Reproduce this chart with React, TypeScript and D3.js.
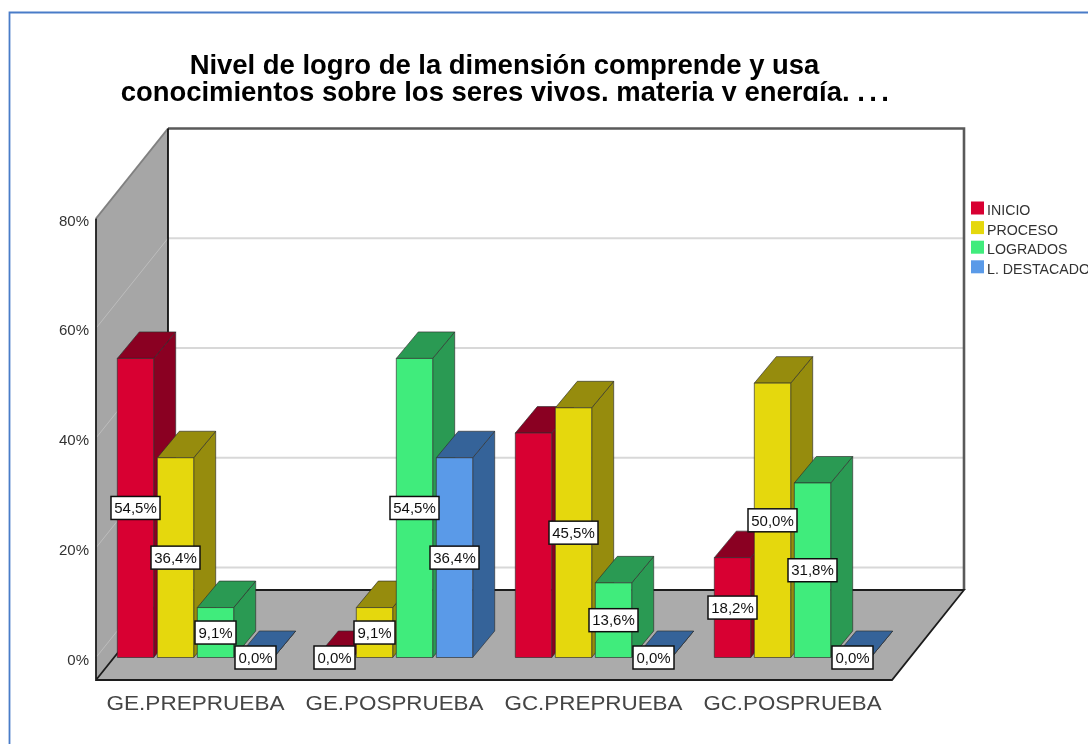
import React from "react";
import * as d3 from "d3";

const titleLines = ["Nivel de logro de la dimensión comprende y usa", "conocimientos sobre los seres vivos, materia y energía, "];
const titleEllipsis = "...";
const categories = ["GE.PREPRUEBA", "GE.POSPRUEBA", "GC.PREPRUEBA", "GC.POSPRUEBA"];
const series = ["INICIO", "PROCESO", "LOGRADOS", "L. DESTACADO"];
const inicio = [54.5, 0, 40.9, 18.2];
const proceso = [36.4, 9.1, 45.5, 50.0];
const logrados = [9.1, 54.5, 13.6, 31.8];
const destacado = [0, 36.4, 0, 0];
const values = [inicio, proceso, logrados, destacado];
const yTicks = [0, 20, 40, 60, 80];
const frontColors = ["#D80032", "#E5D80B", "#41EC7B", "#5A9AE8"];
const sideColors = ["#8A0022", "#968C07", "#2B9A52", "#366499"];
const font = "'Liberation Sans', Arial, sans-serif";

const DX = 72, DY = 90, BDX = 22, BDY = 26.5;
const X0 = 96, X1 = 892, FLOOR = 680;
const x = d3.scaleBand().domain(categories).range([X0, X1]);
const inner = d3.scaleBand().domain(series).range([-80, 80]).paddingInner(0.09).paddingOuter(0.045);
const y = d3.scaleLinear().domain([0, 80]).range([657.5, 218.5]);
const pts = (p: number[][]) => p.map((d) => d.join(",")).join(" ");
const fmt = (v: number) => v.toFixed(1).replace(".", ",") + "%";

export default function App() {
  const bars: any[] = [];
  const labels: any[] = [];
  categories.forEach((c, ci) => {
    series.forEach((s, si) => {
      const v = values[si][ci];
      const l = (x(c) as number) + x.bandwidth() / 2 + (inner(s) as number);
      const r = l + inner.bandwidth();
      const t = y(v), b = y(0);
      bars.push(
        <g key={c + s} stroke="#2e2e2e" strokeOpacity={0.65} strokeWidth={1} strokeLinejoin="round">
          <polygon points={pts([[r, b], [r + BDX, b - BDY], [r + BDX, t - BDY], [r, t]])} fill={sideColors[si]} />
          <polygon points={pts([[l, t], [r, t], [r + BDX, t - BDY], [l + BDX, t - BDY]])} fill={sideColors[si]} />
          {v > 0 && <rect x={l} y={t} width={r - l} height={b - t} fill={frontColors[si]} />}
        </g>
      );
      if (c === "GC.PREPRUEBA" && s === "INICIO") return;
      const cx = (l + r) / 2, cy = (t + b) / 2, w = v >= 10 ? 49 : 41;
      labels.push(
        <g key={c + s + "l"}>
          <rect x={cx - w / 2} y={cy - 11.5} width={w} height={23} fill="#fff" stroke="#111" strokeWidth={1.5} />
          <text x={cx} y={cy + 5.2} textAnchor="middle" fontSize={15} fill="#111" fontFamily={font}>{fmt(v)}</text>
        </g>
      );
    });
  });

  return (
    <svg width={1088} height={744} style={{ position: "absolute", left: 0, top: 0, background: "#fff" }}>
      <defs>
        <clipPath id="tc"><rect x={0} y={40} width={1088} height={61} /></clipPath>
        <filter id="soft" x="0" y="0" width="100%" height="100%"><feGaussianBlur stdDeviation={0.45} /></filter>
      </defs>
      <g filter="url(#soft)">
        <rect x={0} y={0} width={1088} height={744} fill="#fff" />
        <path d="M9.5,744 V12.5 H1088" fill="none" stroke="#4A7CC8" strokeWidth={1.8} />

        <g clipPath="url(#tc)" fontFamily={font} fontWeight="bold" fontSize={27.45} textAnchor="middle" fill="#000">
          <text x={504.5} y={73.5}>{titleLines[0]}</text>
          <text x={507} y={100.5}>{titleLines[1]}<tspan letterSpacing={4.4}>{titleEllipsis}</tspan></text>
        </g>

        <polygon points={pts([[X0 + DX, y(80) - DY], [964, y(80) - DY], [964, FLOOR - DY], [X0 + DX, FLOOR - DY]])} fill="#fff" />
        <polygon points={pts([[X0, y(80)], [X0 + DX, y(80) - DY], [X0 + DX, FLOOR - DY], [X0, FLOOR]])} fill="#A6A6A6" />
        <polygon points={pts([[X0, FLOOR], [X0 + DX, FLOOR - DY], [964, FLOOR - DY], [X1, FLOOR]])} fill="#ABABAB" />

        {yTicks.map((t) => (
          <g key={t} stroke="#D8D8D8" strokeWidth={2}>
            {t < 80 && <line x1={X0 + DX} x2={964} y1={y(t) - DY} y2={y(t) - DY} />}
            {t < 80 && <line x1={X0} x2={X0 + DX} y1={y(t)} y2={y(t) - DY} stroke="#BDBDBD" strokeWidth={1} />}
          </g>
        ))}

        <line x1={X0} x2={X0 + DX} y1={y(80)} y2={y(80) - DY} stroke="#808080" strokeWidth={2} />
        <path d={`M${X0 + DX},${y(80) - DY} H964 V${FLOOR - DY}`} fill="none" stroke="#5a5a5a" strokeWidth={2.6} />
        <line x1={X0 + DX} x2={X0 + DX} y1={y(80) - DY} y2={FLOOR - DY} stroke="#111" strokeWidth={1.8} />
        <path d={`M${X0},${y(80)} V${FLOOR} H${X1} L964,${FLOOR - DY} H${X0 + DX} L${X0},${FLOOR}`} fill="none" stroke="#1c1c1c" strokeWidth={1.8} />

        {yTicks.map((t) => (
          <text key={t} x={89} y={y(t) + 7} textAnchor="end" fontSize={15} fill="#333" fontFamily={font}>{t}%</text>
        ))}

        {bars}
        {labels}

        {categories.map((c) => (
          <text key={c} x={(x(c) as number) + x.bandwidth() / 2} y={709.5} textAnchor="middle" fontSize={21} textLength={178} lengthAdjust="spacingAndGlyphs" fill="#444" fontFamily={font}>{c}</text>
        ))}

        {series.map((s, i) => (
          <g key={s}>
            <rect x={971} y={201.5 + i * 19.6} width={13} height={13} fill={frontColors[i]} />
            <text x={987} y={215 + i * 19.6} fontSize={14.2} fill="#333" fontFamily={font}>{s}</text>
          </g>
        ))}
      </g>
    </svg>
  );
}
